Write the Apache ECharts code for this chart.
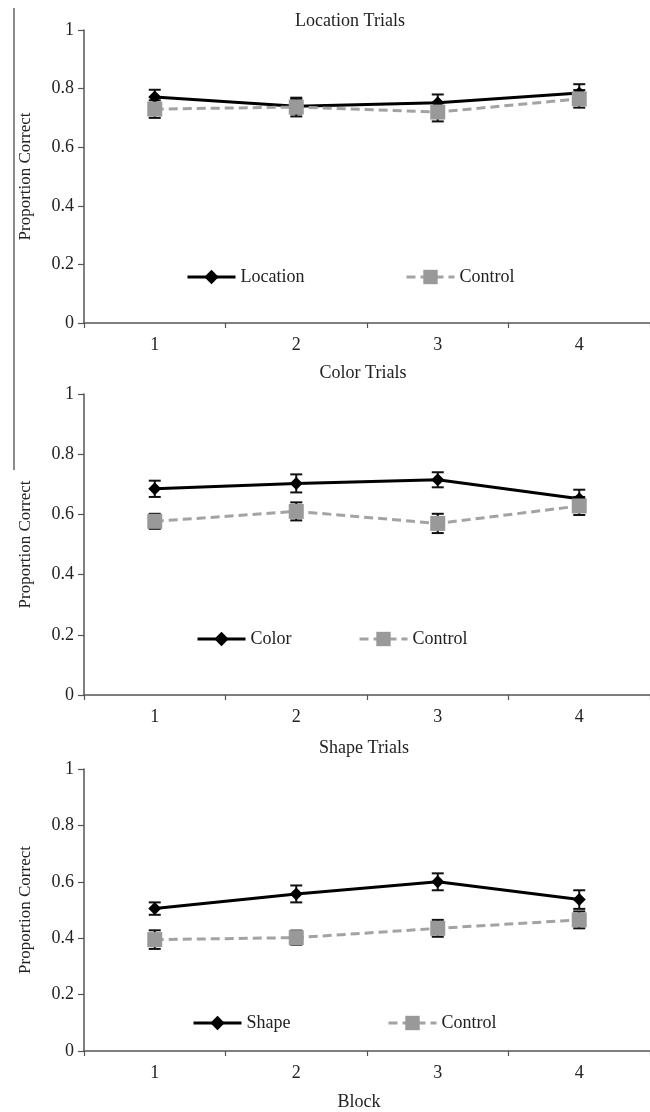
<!DOCTYPE html>
<html>
<head>
<meta charset="UTF-8">
<title>Proportion Correct by Block</title>
<script src="https://cdn.jsdelivr.net/npm/echarts@6/dist/echarts.min.js"></script>
<style>
  html, body { margin: 0; padding: 0; background: #fff; }
  #chart { width: 650px; height: 1112px; }
</style>
</head>
<body>
<div id="chart"></div>
<script>
// data
var blocks = ['1', '2', '3', '4'];
var yTicks = [0, 0.2, 0.4, 0.6, 0.8, 1];

var panelTitles = ['Location Trials', 'Color Trials', 'Shape Trials'];
var mainNames = ['Location', 'Color', 'Shape'];

var locationMean = [0.771, 0.740, 0.752, 0.785];
var locationErr = [0.025, 0.025, 0.028, 0.030];
var locControlMean = [0.730, 0.737, 0.720, 0.765];
var locControlErr = [0.030, 0.032, 0.032, 0.030];

var colorMean = [0.685, 0.703, 0.715, 0.652];
var colorErr = [0.027, 0.030, 0.025, 0.030];
var colControlMean = [0.577, 0.610, 0.570, 0.628];
var colControlErr = [0.025, 0.030, 0.032, 0.030];

var shapeMean = [0.505, 0.557, 0.600, 0.537];
var shapeErr = [0.022, 0.030, 0.030, 0.033];
var shpControlMean = [0.395, 0.402, 0.435, 0.465];
var shpControlErr = [0.033, 0.025, 0.030, 0.030];

var mains = [locationMean, colorMean, shapeMean];
var mainErrs = [locationErr, colorErr, shapeErr];
var controls = [locControlMean, colControlMean, shpControlMean];
var controlErrs = [locControlErr, colControlErr, shpControlErr];

var FONT = '"Liberation Serif", "DejaVu Serif", serif';
var AXIS = '#555';

var grids = [
  { left: 84, top: 30, width: 572, height: 293 },
  { left: 84, top: 394, width: 572, height: 301 },
  { left: 84, top: 769, width: 572, height: 288 }
];
var titlePos = [
  { left: 345, top: 7 },
  { left: 358, top: 359 },
  { left: 359, top: 734 }
];
// legend item placements per panel: [main x, control x, top]
var legendPos = [
  [181, 400, 263],
  [191, 353, 625],
  [187, 382, 1009]
];

function errData(mean, err) {
  return mean.map(function (m, i) { return [i, m - err[i], m + err[i]]; });
}

function errRender(params, api) {
  var x = api.value(0);
  var lo = api.coord([x, api.value(1)]);
  var hi = api.coord([x, api.value(2)]);
  var w = 6;
  var st = { stroke: '#111', lineWidth: 2 };
  return {
    type: 'group',
    children: [
      { type: 'line', shape: { x1: lo[0], y1: lo[1], x2: hi[0], y2: hi[1] }, style: st },
      { type: 'line', shape: { x1: lo[0] - w, y1: lo[1], x2: lo[0] + w, y2: lo[1] }, style: st },
      { type: 'line', shape: { x1: hi[0] - w, y1: hi[1], x2: hi[0] + w, y2: hi[1] }, style: st }
    ]
  };
}

var title = [], grid = [], xAxis = [], yAxis = [], legend = [], series = [];

for (var p = 0; p < 3; p++) {
  title.push({
    text: panelTitles[p],
    left: titlePos[p].left,
    top: titlePos[p].top,
    textAlign: 'center',
    textStyle: { fontFamily: FONT, fontSize: 18, fontWeight: 'normal', color: '#222' }
  });
  grid.push(grids[p]);
  xAxis.push({
    type: 'category',
    gridIndex: p,
    data: blocks,
    boundaryGap: true,
    name: p === 2 ? 'Block' : '',
    nameLocation: 'middle',
    nameGap: 42,
    nameTextStyle: { fontFamily: FONT, fontSize: 18, color: '#222', padding: [0, 0, 0, -16] },
    axisLine: { lineStyle: { color: AXIS, width: 1.5 } },
    axisTick: { show: true, length: 5, alignWithLabel: false, lineStyle: { color: AXIS, width: 1.2 } },
    axisLabel: { fontFamily: FONT, fontSize: 18, color: '#222', margin: 13 },
    splitLine: { show: false }
  });
  yAxis.push({
    type: 'value',
    gridIndex: p,
    min: 0,
    max: 1,
    interval: 0.2,
    name: 'Proportion Correct',
    nameLocation: 'middle',
    nameGap: 50,
    nameTextStyle: { fontFamily: FONT, fontSize: 17, color: '#222' },
    axisLine: { show: true, lineStyle: { color: AXIS, width: 1.5 } },
    axisTick: { show: true, length: 6, lineStyle: { color: AXIS, width: 1.2 } },
    axisLabel: {
      fontFamily: FONT, fontSize: 18, color: '#222', margin: 10,
      formatter: function (v) { return yTicks.indexOf(Math.round(v * 10) / 10) >= 0 ? String(Math.round(v * 10) / 10) : ''; }
    },
    splitLine: { show: false }
  });

  var mainName = mainNames[p];
  var ctrlName = 'Control' + (p === 0 ? '' : ' '.repeat(p));

  series.push({
    type: 'custom', xAxisIndex: p, yAxisIndex: p, z: 1,
    renderItem: errRender, data: errData(mains[p], mainErrs[p]), silent: true
  });
  series.push({
    type: 'custom', xAxisIndex: p, yAxisIndex: p, z: 1,
    renderItem: errRender, data: errData(controls[p], controlErrs[p]), silent: true
  });
  series.push({
    name: mainName,
    type: 'line', xAxisIndex: p, yAxisIndex: p, z: 3,
    data: mains[p],
    symbol: 'diamond', symbolSize: 13,
    itemStyle: { color: '#000' },
    lineStyle: { color: '#000', width: 3 },
    animation: false
  });
  series.push({
    name: ctrlName,
    type: 'line', xAxisIndex: p, yAxisIndex: p, z: 4,
    data: controls[p],
    symbol: 'rect', symbolSize: 15,
    itemStyle: { color: '#999' },
    lineStyle: { color: '#a3a3a3', width: 3, type: [9, 5] },
    animation: false
  });

  var lp = legendPos[p];
  legend.push({
    data: [mainName], left: lp[0], top: lp[2], itemWidth: 48, itemHeight: 18, itemGap: 6,
    lineStyle: { width: 3 },
    textStyle: { fontFamily: FONT, fontSize: 18, color: '#222' }, selectedMode: false
  });
  legend.push({
    data: [ctrlName], left: lp[1], top: lp[2], itemWidth: 48, itemHeight: 18,
    lineStyle: { width: 3 },
    textStyle: { fontFamily: FONT, fontSize: 18, color: '#222' }, selectedMode: false,
    formatter: function () { return 'Control'; }
  });
}

var chart = echarts.init(document.getElementById('chart'));
chart.setOption({
  animation: false,
  backgroundColor: '#fff',
  title: title,
  grid: grid,
  xAxis: xAxis,
  yAxis: yAxis,
  legend: legend,
  series: series,
  graphic: [{
    type: 'line',
    shape: { x1: 14, y1: 8, x2: 14, y2: 470 },
    style: { stroke: '#666', lineWidth: 1.5 }
  }]
});
</script>
</body>
</html>
